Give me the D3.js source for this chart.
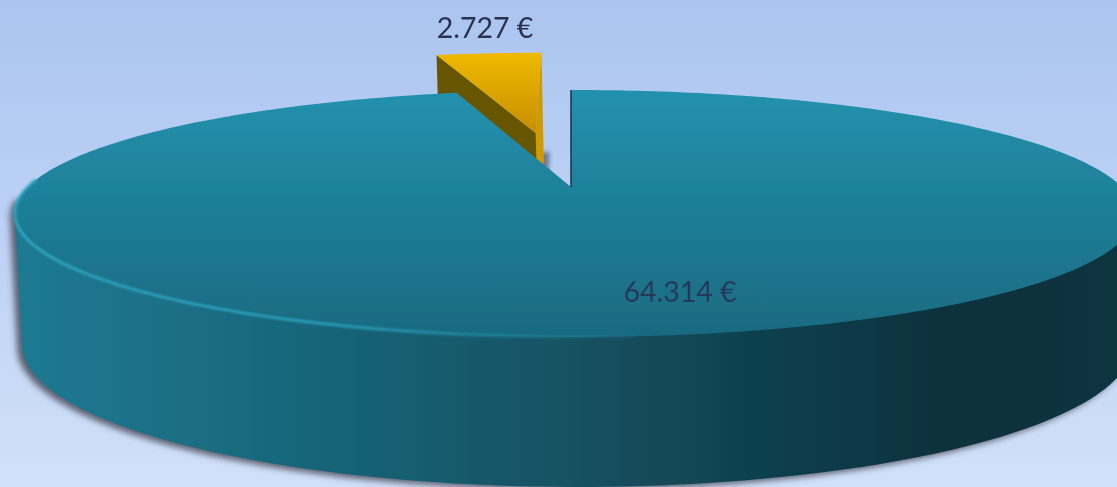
<!DOCTYPE html>
<html><head><meta charset="utf-8">
<script src="https://cdn.jsdelivr.net/npm/d3@7"></script>
<style>html,body{margin:0;padding:0;overflow:hidden;background:#bcd0f3}svg{display:block}</style>
</head><body><svg id="c" width="1117" height="487"></svg>
<script>
const categories = ["Hauptanteil", "Kleiner Anteil"];
const values = [64314, 2727];
const valueLabels = ["64.314 €", "2.727 €"];
const W = 1117, H = 487;

const svg = d3.select("#c");
const defs = svg.append("defs");
function grad(id, horizontal, stops, units) {
  const g = defs.append("linearGradient").attr("id", id)
    .attr("gradientUnits", "userSpaceOnUse")
    .attr("x1", horizontal ? units[0] : 0).attr("x2", horizontal ? units[1] : 0)
    .attr("y1", horizontal ? 0 : units[0]).attr("y2", horizontal ? 0 : units[1]);
  stops.forEach(s => g.append("stop").attr("offset", s[0]).attr("stop-color", s[1]).attr("stop-opacity", s[2] === undefined ? 1 : s[2]));
}
function blur(id, sd) {
  defs.append("filter").attr("id", id).attr("x", "-20%").attr("y", "-20%").attr("width", "140%").attr("height", "140%")
    .append("feGaussianBlur").attr("stdDeviation", sd);
}
grad("bg", false, [[0, "#abc5f0"], [1, "#d1e0fa"]], [0, H]);
grad("topFace", false, [[0, "#2391ae"], [1, "#196a80"]], [90, 337]);
grad("wall", true, [[0, "#1e7a92"], [0.27, "#186579"], [0.5, "#155263"], [0.72, "#0f3c4a"], [0.85, "#0c303c"], [1, "#0d3440"]], [15, 1117]);
grad("rim", true, [[0, "#2ea6c2", 0.95], [0.5, "#2ea6c2", 0.8], [1, "#2ea6c2", 0]], [15, 660]);
grad("gold", false, [[0, "#f2bb00"], [1, "#c48d00"]], [50, 135]);
blur("blur", 3.2);
blur("blurS", 2);
blur("soft", 0.5);
blur("softRim", 0.8);
blur("softText", 0.3);

svg.append("rect").attr("width", W).attr("height", H).attr("fill", "url(#bg)");

// pie angles: clockwise from the far side of the disc
const arcs = d3.pie().sort(null).startAngle(0).endAngle(2 * Math.PI)(values);
const main = arcs[0], small = arcs[1];

// perspective projection of the disc plane
const K = 0.2146, M = 0.007;
function project(level, X, Y) {
  const d = 1 + K * Y - M * X;
  return [level.cx + level.f * X / d, level.cy - level.g * Y / d];
}
const topLevel = { cx: 571, cy: 187, f: 547, g: 117.8 };
const botLevel = { cx: 573, cy: 314.4, f: 542, g: 135.5 };
const pt = (level, a, ox = 0, oy = 0, r = 1) => project(level, ox + r * Math.sin(a), oy + r * Math.cos(a));
const angles = (a0, a1, n) => d3.range(n + 1).map(i => d3.scaleLinear().domain([0, n]).range([a0, a1])(i));
const line = d3.line().curve(d3.curveLinear);
const poly = pts => line(pts) + "Z";

// exploded position of the small slice
const mid = (small.startAngle + small.endAngle) / 2;
const explode = 0.514;
const ox = explode * Math.sin(mid) - 0.006, oy = explode * Math.cos(mid);

const chart = svg.append("g").attr("filter", "url(#soft)");

// small slice walls and faces (behind the main disc)
const gTop = angles(small.startAngle, small.endAngle, 16).map(a => pt(topLevel, a, ox, oy));
const gBot = angles(small.startAngle, small.endAngle, 16).map(a => pt(botLevel, a, ox, oy));
const gApexT = project(topLevel, ox, oy), gApexB = project(botLevel, ox, oy);
const gShadow = [gBot[gBot.length - 1], gApexB, gBot[0]].map(p => [p[0] + 6, p[1] - 8]);
chart.append("path").attr("d", poly(gShadow)).attr("fill", "#4a4f66").attr("opacity", 0.65).attr("filter", "url(#blurS)");
chart.append("path").attr("d", poly([gApexT, gTop[gTop.length - 1], gBot[gBot.length - 1], gApexB])).attr("fill", "#cf9a00");
chart.append("path").attr("d", poly([gApexT, gTop[0], gBot[0], gApexB])).attr("fill", "#675400");
chart.append("path").attr("d", poly([gApexT, ...gTop])).attr("fill", "url(#gold)");

// main disc: drop shadow and side wall silhouette
const margin = 5 * Math.PI / 180;
const frontAngles = angles(Math.PI / 2 + margin, 3 * Math.PI / 2 - margin, 120);
const hull = d3.polygonHull([...frontAngles.map(a => pt(topLevel, a)), ...frontAngles.map(a => pt(botLevel, a))]);
chart.append("path").attr("d", poly(hull)).attr("transform", "translate(-5,3)").attr("fill", "#3f4350").attr("opacity", 0.8).attr("filter", "url(#blur)");
chart.append("path").attr("d", poly(hull)).attr("fill", "url(#wall)");

// main disc: top face
const mainEdge = angles(main.startAngle, main.endAngle, 360).map(a => pt(topLevel, a));
const apex = project(topLevel, 0, 0);
chart.append("path").attr("d", poly([apex, ...mainEdge])).attr("fill", "url(#topFace)");

// dark cut edge at the far radius and the lit rim at the front left
chart.append("path").attr("d", line([apex, mainEdge[0]])).attr("stroke", "#123f4d").attr("stroke-width", 1.6).attr("fill", "none");
const rimPts = angles(Math.PI * 0.97, Math.PI * 1.52, 100).map(a => pt(topLevel, a));
chart.append("path").attr("d", line(rimPts)).attr("stroke", "url(#rim)").attr("stroke-width", 3).attr("fill", "none").attr("filter", "url(#softRim)");

// value labels
const labelX = [680, 485], labelY = [291, 27];
svg.selectAll("text.v").data(categories).join("text").attr("class", "v")
  .attr("x", (d, i) => labelX[i]).attr("y", (d, i) => labelY[i])
  .attr("text-anchor", "middle").attr("dominant-baseline", "central")
  .attr("font-family", "Lato, 'Open Sans', sans-serif").attr("font-size", 28.5)
  .attr("fill", (d, i) => i ? "#2a3150" : "#26395a")
  .attr("filter", "url(#softText)")
  .text((d, i) => valueLabels[i]);
</script></body></html>
